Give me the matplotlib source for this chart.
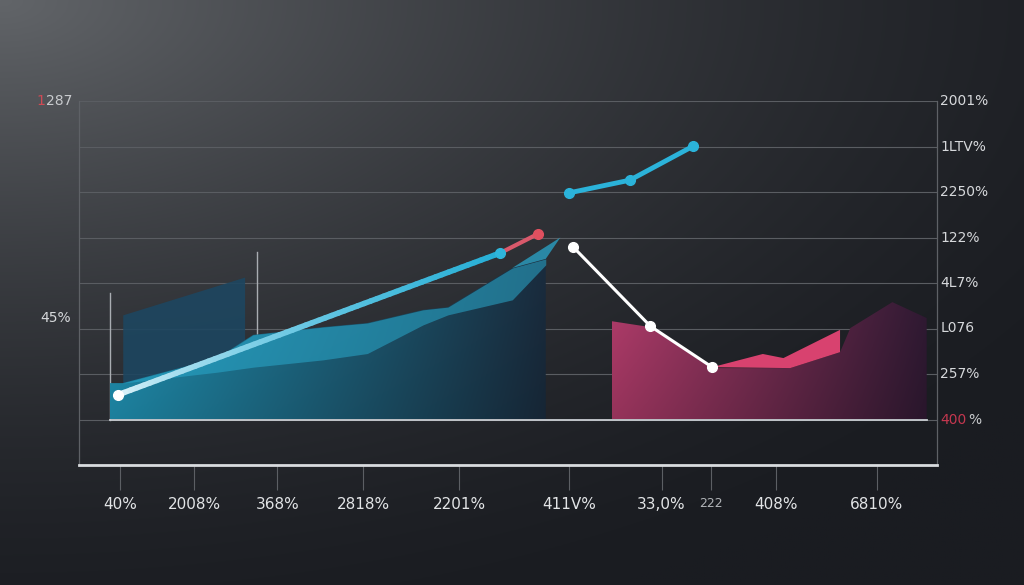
import numpy as np
import matplotlib
matplotlib.use("Agg")
import matplotlib.pyplot as plt
from matplotlib.patches import Polygon
from matplotlib.collections import LineCollection
from matplotlib.colors import to_rgb

plt.rcParams['font.family'] = ['DejaVu Sans']

# ---- data (x: 0-100 across the plot, y: 0-8 gridline units) ----
x_ticks = [4.8, 13.4, 23.1, 33.1, 44.3, 57.1, 67.9, 73.7, 81.2, 93.0]
x_labels = ["40%", "2008%", "368%", "2818%", "2201%", "411V%", "33,0%", "222", "408%", "6810%"]
right_labels = ["400%", "257%", "L076", "4L7%", "122%", "2250%", "1LTV%", "2001%"]

# blue area (outer envelope and inner band edge)
blue_x = [3.6, 5.1, 16.1, 20.3, 28.4, 33.6, 40.1, 43.0, 50.5, 54.4]
blue_top = [1.80, 1.80, 2.35, 2.86, 3.03, 3.12, 3.41, 3.47, 4.33, 4.53]
blue_mid = [1.80, 1.80, 2.04, 2.15, 2.31, 2.45, 3.08, 3.30, 3.63, 4.40]
back_x = [5.1, 19.3]
back_top = [3.30, 4.13]
vline_x = [3.6, 20.7]
vline_lo = [1.0, 2.86]
vline_hi = [3.78, 4.68]

# pink area
pink_x = [62.1, 66.6, 73.8, 82.9, 88.7, 89.9, 94.8, 98.8]
pink_top = [3.16, 3.03, 2.13, 2.13, 2.48, 3.01, 3.58, 3.23]
pink_band_x = [73.8, 79.7, 82.1, 88.7, 88.7, 82.9]
pink_band_y = [2.15, 2.44, 2.35, 2.97, 2.48, 2.13]

# lines
rise_x = [4.5, 49.1]
rise_y = [1.54, 4.66]
red_x = [49.1, 53.5]
red_y = [4.66, 5.08]
cyan_x = [57.1, 64.2, 71.6]
cyan_y = [5.98, 6.26, 7.01]
white_x = [57.6, 66.6, 73.8]
white_y = [4.79, 3.05, 2.15]

W, H = 1024, 585
fig = plt.figure(figsize=(W / 100, H / 100), dpi=100)

# background gradient
bg = fig.add_axes([0, 0, 1, 1], zorder=-10)
yy, xx = np.mgrid[0:1:300j, 0:1:500j]
d = np.sqrt((xx * 1.0) ** 2 + (yy * 1.1) ** 2)
f = np.clip(1 - d / 1.25, 0, 1) ** 1.6
light = np.array(to_rgb("#626569"))
dark = np.array(to_rgb("#1a1c21"))
img = dark + (light - dark) * f[..., None]
bg.imshow(img, extent=[0, 1, 0, 1], aspect='auto', origin='upper')
bg.axis('off')

ax = fig.add_axes([79 / W, (H - 465) / H, 858 / W, 364 / H])
ax.set_facecolor('none')
ax.set_xlim(0, 100)
ax.set_ylim(0, 8)

# grid
for g in range(1, 9):
    ax.axhline(g, color='#5a5d62', lw=0.8, zorder=1)
ax.plot([3.6, 98.8], [1, 1], color='#c9cdd2', lw=1.3, zorder=6)

ax.spines['top'].set_visible(False)
for s in ['left', 'right']:
    ax.spines[s].set_color('#5e6166')
    ax.spines[s].set_linewidth(0.9)
ax.spines['bottom'].set_color('#d9dcdf')
ax.spines['bottom'].set_linewidth(2.0)


def gradient_fill(xs, ys, c_left, c_right, alpha=1.0, z=2, base=1.0):
    verts = list(zip(xs, ys)) + [(xs[-1], base), (xs[0], base)]
    poly = Polygon(verts, closed=True, facecolor='none', edgecolor='none')
    ax.add_patch(poly)
    t = np.linspace(0, 1, 256)
    c0, c1 = np.array(to_rgb(c_left)), np.array(to_rgb(c_right))
    row = c0 + (c1 - c0) * t[:, None]
    shade = np.linspace(1.0, 0.85, 64)[:, None, None]
    im = ax.imshow(row[None, :, :] * shade, extent=[min(xs), max(xs), base, max(ys)],
                   aspect='auto', origin='upper', alpha=alpha, zorder=z)
    im.set_clip_path(poly)


# back panel of blue area
ax.fill_between(back_x, 1, back_top, color='#1d4660', alpha=0.9, zorder=2, lw=0)
for vx, lo, hi in zip(vline_x, vline_lo, vline_hi):
    ax.plot([vx, vx], [lo, hi], color='#a9adb2', lw=1.0, zorder=2)

# blue area
gradient_fill(blue_x, blue_top, '#2196b8', '#1a2c3e', z=3)
ax.fill_between(blue_x, blue_mid, blue_top, color='#2aa9cc', alpha=0.55, zorder=4, lw=0)
ax.fill(blue_x[-2:] + [56.1], blue_top[-2:] + [5.0], color='#2a9fc2', alpha=0.8, zorder=4, lw=0)

# pink area
gradient_fill(pink_x, pink_top, '#b03c6a', '#301a33', z=3)
ax.fill(pink_band_x, pink_band_y, color='#d8426f', zorder=4, lw=0)

# rising gradient line
n = 60
xs = np.linspace(rise_x[0], rise_x[1], n)
ys = np.linspace(rise_y[0], rise_y[1], n)
segs = np.stack([np.column_stack([xs[:-1], ys[:-1]]), np.column_stack([xs[1:], ys[1:]])], axis=1)
c0, c1 = np.array(to_rgb('#e6f6fb')), np.array(to_rgb('#27afd6'))
tt = np.linspace(0, 1, n - 1) ** 0.6
cols = c0 + (c1 - c0) * tt[:, None]
ax.add_collection(LineCollection(segs, colors=cols, linewidths=4, zorder=7, capstyle='round'))
ax.plot(red_x, red_y, color='#d9596b', lw=3, zorder=7)
ax.plot(rise_x[0], rise_y[0], 'o', color='white', ms=7, zorder=8)
ax.plot(rise_x[1], rise_y[1], 'o', color='#2fb6dc', ms=7, zorder=8)
ax.plot(red_x[1], red_y[1], 'o', color='#e0505f', ms=7, zorder=8)

ax.plot(cyan_x, cyan_y, '-o', color='#2bb3da', lw=3.5, ms=7, zorder=7)
ax.plot(white_x, white_y, '-o', color='white', lw=2.2, ms=7, zorder=7)

# ticks / labels
ax.set_xticks(x_ticks)
ax.set_xticklabels(x_labels, fontsize=11, color='#e2e4e6')
ax.tick_params(axis='x', length=18, width=0.8, color='#5c5f64', pad=5)
for lbl in ax.get_xticklabels():
    if lbl.get_text() == "222":
        lbl.set_fontsize(9)
        lbl.set_color('#b0b3b7')
ax.set_yticks([])

for i, lab in enumerate(right_labels):
    yv = i + 1
    if i == 0:
        ax.annotate("400", (100, yv), xytext=(2.5, 0), textcoords='offset points',
                    color='#c4374f', fontsize=10, va='center', ha='left', annotation_clip=False)
        ax.annotate("%", (100, yv), xytext=(22.5, 0), textcoords='offset points',
                    color='#c8cacd', fontsize=10, va='center', ha='left', annotation_clip=False)
    else:
        ax.annotate(lab, (100, yv), xytext=(2.5, 0), textcoords='offset points',
                    color='#d6d8db', fontsize=10, va='center', ha='left', annotation_clip=False)

ax.annotate("287", (0, 8), xytext=(-5, 0), textcoords='offset points',
            color='#c9cbce', fontsize=10, va='center', ha='right', annotation_clip=False)
ax.annotate("1", (0, 8), xytext=(-24.5, 0), textcoords='offset points',
            color='#d04a55', fontsize=10, va='center', ha='right', annotation_clip=False)
ax.annotate("45%", (0, 3.23), xytext=(-6, 0), textcoords='offset points',
            color='#d6d8db', fontsize=10, va='center', ha='right', annotation_clip=False)

fig.savefig('out.png', dpi=100)
